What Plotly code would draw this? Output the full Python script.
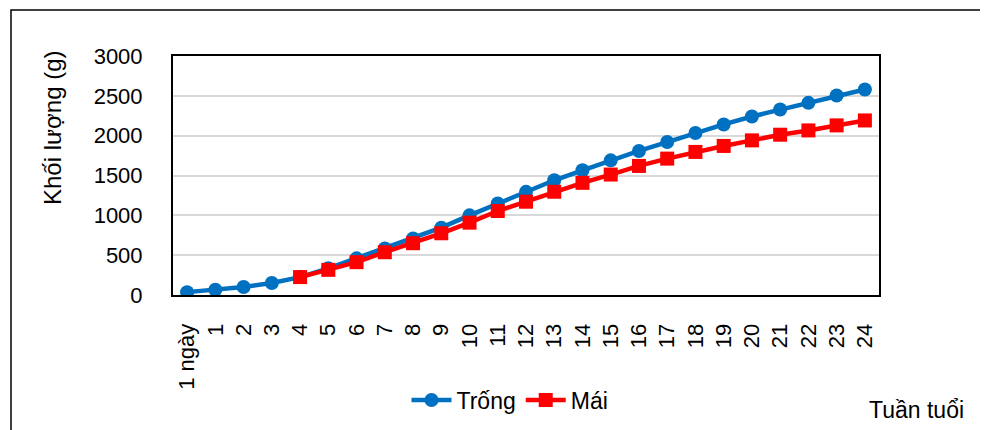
import plotly.graph_objects as go

categories = ["1 ngày"] + [str(i) for i in range(1, 25)]
trong = [36, 65, 100, 150, 225, 335, 460, 585, 710, 845, 1000, 1150, 1295, 1440,
         1565, 1690, 1808, 1920, 2033, 2141, 2241, 2329, 2412, 2504, 2580]
mai = [None, None, None, None, 225, 316, 412, 537, 650, 775, 908, 1054, 1171, 1296,
       1408, 1512, 1620, 1712, 1796, 1871, 1941, 2012, 2066, 2129, 2191]
y_ticks = [0, 500, 1000, 1500, 2000, 2500, 3000]

OFF = 8  # page body margin
W, H = 988, 430
L, R, T, B = 173 - OFF, 879 - OFF, 56 - OFF, 295 - OFF

def px(x):
    return (x - OFF - L) / (R - L)

def py(y):
    return (B - (y - OFF)) / (B - T)

FONT = "Arial, Liberation Sans, sans-serif"

fig = go.Figure()
fig.add_trace(go.Scatter(
    x=categories, y=trong, name="Trống", mode="lines+markers",
    line=dict(color="#0070C0", width=4.5),
    marker=dict(symbol="circle", size=14, color="#0070C0"),
))
fig.add_trace(go.Scatter(
    x=categories, y=mai, name="Mái", mode="lines+markers",
    line=dict(color="#FF0000", width=4.5),
    marker=dict(symbol="square", size=14, color="#FF0000"),
))

fig.update_layout(
    width=W, height=H,
    margin=dict(l=L, r=W - R, t=T, b=H - B, pad=0),
    paper_bgcolor="white", plot_bgcolor="white",
    font=dict(family=FONT, size=22, color="black"),
    showlegend=True,
    legend=dict(orientation="h", x=px(510), y=py(400), xanchor="center", yanchor="middle",
                font=dict(size=23), itemwidth=40, traceorder="normal", bgcolor="rgba(0,0,0,0)"),
    xaxis=dict(type="category", range=[-0.5, 24.5], tickangle=-90, showgrid=False,
               showline=True, mirror=True, linecolor="black", linewidth=2,
               ticks="", ticklabelstandoff=18, tickfont=dict(size=22)),
    yaxis=dict(range=[0, 3000], tickvals=y_ticks, showgrid=True, gridcolor="#d9d9d9",
               gridwidth=2, showline=True, mirror=True, linecolor="black", linewidth=2,
               ticks="", ticklabelstandoff=24, zeroline=False, tickfont=dict(size=22)),
    annotations=[
        dict(text="Khối lượng (g)", x=px(52), y=py(128), xref="paper", yref="paper",
             textangle=-90, showarrow=False, xanchor="center", yanchor="middle",
             font=dict(size=24)),
        dict(text="Tuần tuổi", x=px(916), y=py(410), xref="paper", yref="paper",
             showarrow=False, xanchor="center", yanchor="middle", font=dict(size=23)),
    ],
    shapes=[
        dict(type="rect", xref="paper", yref="paper", x0=px(11), x1=px(1010),
             y0=py(10), y1=py(460), line=dict(color="black", width=1.5),
             fillcolor="rgba(0,0,0,0)", layer="below"),
    ],
)

fig.write_html("out.html")
